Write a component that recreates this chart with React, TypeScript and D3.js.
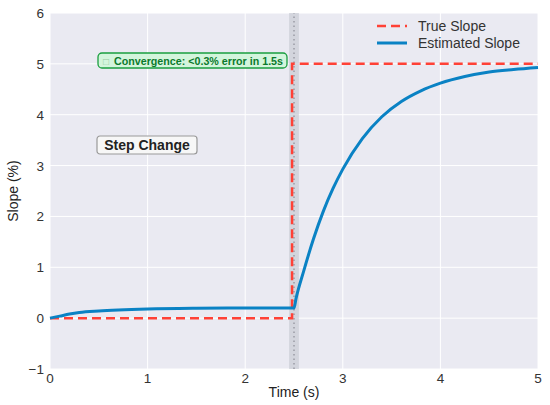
import React, { useEffect, useRef } from "react";
import * as d3 from "d3";

// values
const trueTime = [0, 2.48, 2.48, 5];
const trueSlope = [0, 0, 5, 5];

const estTime = [0, 0.1, 0.2, 0.3, 0.5, 0.7, 1.0, 1.5, 2.0, 2.5, 2.52, 2.6, 2.7, 2.8, 2.9, 3.0, 3.2, 3.4, 3.6, 3.8, 4.0, 4.25, 4.5, 4.75, 5.0];
const estSlope = [0, 0.04, 0.08, 0.11, 0.14, 0.16, 0.18, 0.195, 0.2, 0.2, 0.38, 0.93, 1.56, 2.1, 2.55, 2.93, 3.53, 3.96, 4.26, 4.47, 4.62, 4.75, 4.84, 4.89, 4.93];

const xTicks = [0, 1, 2, 3, 4, 5];
const yTicks = [-1, 0, 1, 2, 3, 4, 5, 6];

const stepAt = 2.5;
const bandHalf = 0.05;

const W = 550;
const H = 405;
const FONT = "'Liberation Sans', Arial, sans-serif";

export default function App() {
  const svgRef = useRef<SVGSVGElement>(null);

  useEffect(() => {
    if (!svgRef.current) return;
    const svg = d3.select(svgRef.current);
    svg.selectAll("*").remove();

    const margin = { top: 13, right: 12, bottom: 36, left: 50 };
    const x = d3.scaleLinear().domain([0, 5]).range([margin.left, W - margin.right]);
    const y = d3.scaleLinear().domain([-1, 6]).range([H - margin.bottom, margin.top]);

    // plot background
    svg
      .append("rect")
      .attr("x", x(0))
      .attr("y", y(6))
      .attr("width", x(5) - x(0))
      .attr("height", y(-1) - y(6))
      .attr("fill", "#eaeaf2");

    // grid
    const grid = svg.append("g");
    grid
      .selectAll(".gx")
      .data(xTicks)
      .enter()
      .append("line")
      .attr("x1", (d) => x(d))
      .attr("x2", (d) => x(d))
      .attr("y1", y(-1))
      .attr("y2", y(6))
      .attr("stroke", "#ffffff")
      .attr("stroke-width", 1);
    grid
      .selectAll(".gy")
      .data(yTicks)
      .enter()
      .append("line")
      .attr("x1", x(0))
      .attr("x2", x(5))
      .attr("y1", (d) => y(d))
      .attr("y2", (d) => y(d))
      .attr("stroke", "#ffffff")
      .attr("stroke-width", 1);

    // step marker band + dotted line
    svg
      .append("rect")
      .attr("x", x(stepAt - bandHalf))
      .attr("y", y(6))
      .attr("width", x(stepAt + bandHalf) - x(stepAt - bandHalf))
      .attr("height", y(-1) - y(6))
      .attr("fill", "#c9ccd4")
      .attr("opacity", 0.7);
    svg
      .append("line")
      .attr("x1", x(stepAt))
      .attr("x2", x(stepAt))
      .attr("y1", y(-1))
      .attr("y2", y(6))
      .attr("stroke", "#9a9aa4")
      .attr("stroke-width", 1.5)
      .attr("stroke-dasharray", "1.5,3");

    // tick labels
    svg
      .selectAll(".xt")
      .data(xTicks)
      .enter()
      .append("text")
      .attr("x", (d) => x(d))
      .attr("y", y(-1) + 13.5)
      .attr("text-anchor", "middle")
      .style("font-family", FONT)
      .style("font-size", "13.5px")
      .style("fill", "#333")
      .text((d) => String(d));
    svg
      .selectAll(".yt")
      .data(yTicks)
      .enter()
      .append("text")
      .attr("x", x(0) - 6)
      .attr("y", (d) => y(d) + 5)
      .attr("text-anchor", "end")
      .style("font-family", FONT)
      .style("font-size", "13.5px")
      .style("fill", "#333")
      .text((d) => (d < 0 ? "\u2212" + Math.abs(d) : String(d)));

    // axis titles
    svg
      .append("text")
      .attr("x", (x(0) + x(5)) / 2)
      .attr("y", H - 8)
      .attr("text-anchor", "middle")
      .style("font-family", FONT)
      .style("font-size", "14px")
      .style("fill", "#222")
      .text("Time (s)");
    svg
      .append("text")
      .attr("transform", `translate(18, ${(y(-1) + y(6)) / 2}) rotate(-90)`)
      .attr("text-anchor", "middle")
      .style("font-family", FONT)
      .style("font-size", "14px")
      .style("fill", "#222")
      .text("Slope (%)");

    const line = d3
      .line<[number, number]>()
      .x((d) => x(d[0]))
      .y((d) => y(d[1]));

    const trueData = trueTime.map((t, i) => [t, trueSlope[i]] as [number, number]);
    const estData = estTime.map((t, i) => [t, estSlope[i]] as [number, number]);

    svg
      .append("path")
      .attr("d", line(trueData))
      .attr("fill", "none")
      .attr("stroke", "#ff4136")
      .attr("stroke-width", 2.5)
      .attr("stroke-dasharray", "9,5");

    svg
      .append("path")
      .attr("d", line.curve(d3.curveMonotoneX)(estData))
      .attr("fill", "none")
      .attr("stroke", "#0a82c4")
      .attr("stroke-width", 3)
      .attr("stroke-linejoin", "round");

    // convergence annotation
    const conv = svg.append("g").attr("transform", "translate(98, 53)");
    conv
      .append("rect")
      .attr("width", 189)
      .attr("height", 15)
      .attr("rx", 4)
      .attr("fill", "#d3f5dc")
      .attr("stroke", "#1a9e3f")
      .attr("stroke-width", 1.3);
    conv
      .append("text")
      .attr("x", 5)
      .attr("y", 11.5)
      .style("font-family", FONT)
      .style("font-size", "10px")
      .style("fill", "#93c9a0")
      .text("\u25a1");
    conv
      .append("text")
      .attr("x", 16)
      .attr("y", 11.5)
      .style("font-family", FONT)
      .style("font-size", "10.7px")
      .style("font-weight", "bold")
      .style("fill", "#0b7a2c")
      .text("Convergence: <0.3% error in 1.5s");

    // step change label
    const step = svg.append("g").attr("transform", "translate(97, 136)");
    step
      .append("rect")
      .attr("width", 100)
      .attr("height", 18)
      .attr("rx", 3)
      .attr("fill", "#f7f7f7")
      .attr("stroke", "#999")
      .attr("stroke-width", 1.2);
    step
      .append("text")
      .attr("x", 50)
      .attr("y", 14)
      .attr("text-anchor", "middle")
      .style("font-family", FONT)
      .style("font-size", "14px")
      .style("font-weight", "bold")
      .style("fill", "#222")
      .text("Step Change");

    // legend
    const legend = svg.append("g").attr("transform", "translate(377, 26)");
    const items = [
      { label: "True Slope", color: "#ff4136", dash: "9,5", w: 2.5 },
      { label: "Estimated Slope", color: "#0a82c4", dash: null, w: 3 },
    ];
    items.forEach((it, i) => {
      const g = legend.append("g").attr("transform", `translate(0, ${i * 17})`);
      const l = g
        .append("line")
        .attr("x1", 0)
        .attr("x2", 30)
        .attr("stroke", it.color)
        .attr("stroke-width", it.w);
      if (it.dash) l.attr("stroke-dasharray", it.dash);
      g.append("text")
        .attr("x", 41)
        .attr("y", 5)
        .style("font-family", FONT)
        .style("font-size", "14px")
        .style("fill", "#333")
        .text(it.label);
    });
  }, []);

  return (
    <svg
      ref={svgRef}
      width={W}
      height={H}
      style={{ position: "absolute", left: 0, top: 0, background: "#fff" }}
    />
  );
}
